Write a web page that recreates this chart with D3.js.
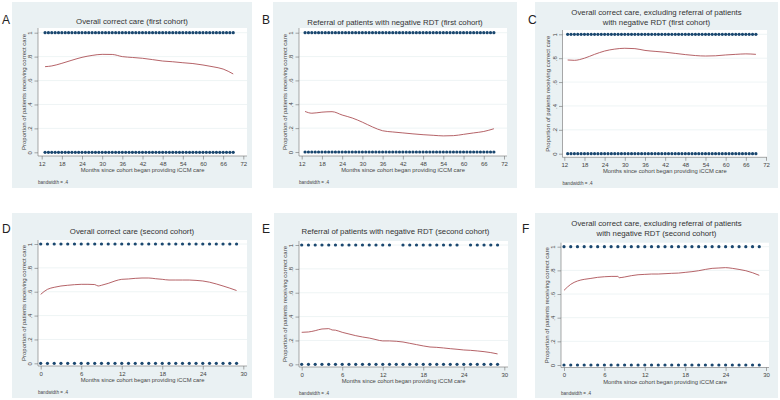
<!DOCTYPE html>
<html><head><meta charset="utf-8">
<script src="https://cdn.jsdelivr.net/npm/d3@7"></script>
<style>body{margin:0;background:#fff}svg{display:block}</style>
</head><body><svg id="c" width="780" height="400"></svg>
<script>
// ---------- DATA ----------
const monthsFirst = [13,14,15,16,17,18,19,20,21,22,23,24,25,26,27,28,29,30,31,32,33,34,35,36,37,38,39,40,41,42,43,44,45,46,47,48,49,50,51,52,53,54,55,56,57,58,59,60,61,62,63,64,65,66,67,68,69];
const monthsSecond = [0,1,2,3,4,5,6,7,8,9,10,11,12,13,14,15,16,17,18,19,20,21,22,23,24,25,26,27,28,29];
const monthsSecondReferralTop = [0,1,2,3,4,5,6,7,8,9,10,11,12,13,15,16,17,18,19,20,21,22,23,25,26,27,28,29];

const curveFirstX = [13,15,18,21,24,27,30,33,36,39,42,45,48,51,54,57,60,63,66,69];
const curveA = [0.716,0.722,0.744,0.77,0.794,0.81,0.819,0.818,0.80,0.793,0.786,0.775,0.763,0.757,0.749,0.742,0.73,0.715,0.696,0.655];
const curveB = [0.34,0.325,0.334,0.338,0.31,0.285,0.25,0.21,0.178,0.168,0.16,0.152,0.145,0.14,0.135,0.137,0.148,0.16,0.172,0.195];
const curveC = [0.785,0.782,0.80,0.832,0.86,0.876,0.883,0.88,0.865,0.857,0.85,0.84,0.83,0.822,0.818,0.82,0.827,0.832,0.836,0.832];

const curveDX = [0,1,2,3,4,5,6,7,8,8.5,9,10,11,12,13,14,15,16,17,18,19,20,21,22,23,24,25,26,27,28,29];
const curveD = [0.578,0.62,0.637,0.648,0.654,0.659,0.662,0.662,0.66,0.648,0.654,0.67,0.69,0.704,0.707,0.712,0.715,0.715,0.709,0.704,0.698,0.698,0.698,0.698,0.695,0.69,0.68,0.665,0.648,0.63,0.61];
const curveEX = [0,1,2,3,4,4.5,5,6,7,8,9,10,11,12,13,14,15,16,17,18,19,20,21,22,23,24,25,26,27,28,29];
const curveE = [0.268,0.271,0.282,0.296,0.299,0.288,0.286,0.268,0.254,0.24,0.229,0.22,0.207,0.196,0.196,0.193,0.187,0.176,0.165,0.154,0.145,0.142,0.137,0.131,0.126,0.12,0.117,0.112,0.106,0.098,0.087];
const curveFX = [0,1,2,3,4,5,6,7,8,8.2,9,10,11,12,13,14,15,16,17,18,19,20,21,22,23,24,25,26,27,28,29];
const curveF = [0.631,0.682,0.71,0.724,0.732,0.741,0.746,0.749,0.749,0.738,0.744,0.755,0.763,0.766,0.769,0.769,0.772,0.775,0.777,0.783,0.789,0.797,0.808,0.817,0.82,0.823,0.817,0.808,0.797,0.78,0.758];

const xTicksFirst = [12,18,24,30,36,42,48,54,60,66,72];
const xTicksSecond = [0,6,12,18,24,30];
const yTicks = [0,0.2,0.4,0.6,0.8,1];
const yTickLabels = ["0",".2",".4",".6",".8","1"];

const panelLetters = ["A","B","C","D","E","F"];
const panelTitles = [
  ["Overall correct care (first cohort)"],
  ["Referral of patients with negative RDT (first cohort)"],
  ["Overall correct care, excluding referral of patients","with negative RDT (first cohort)"],
  ["Overall correct care (second cohort)"],
  ["Referral of patients with negative RDT (second cohort)"],
  ["Overall correct care, excluding referral of patients","with negative RDT (second cohort)"]
];
const xAxisTitle = "Months since cohort began providing iCCM care";
const yAxisTitle = "Proportion of patients receiving correct care";
const noteText = "bandwidth = .4";

// ---------- LAYOUT ----------
const panels = [
  {bg:[12,2,252,188], plot:[38,28,247,156], xd:[12,72], xr:[41.7,243.3], yr:[152.3,32.7], titleY:[23.5], letter:[2,24],
   top:monthsFirst, bot:monthsFirst, cx:curveFirstX, cy:curveA, xt:xTicksFirst},
  {bg:[273,2,517,188], plot:[299,28,507,156], xd:[12,72], xr:[301.7,504], yr:[152,32.7], titleY:[25], letter:[262,24],
   top:monthsFirst, bot:monthsFirst, cx:curveFirstX, cy:curveB, xt:xTicksFirst},
  {bg:[535,2,778,188], plot:[562.5,30,767,157.3], xd:[12,72], xr:[564.3,766], yr:[153.7,34.3], titleY:[15,24.5], letter:[528,24],
   top:monthsFirst, bot:monthsFirst, cx:curveFirstX, cy:curveC, xt:xTicksFirst},
  {bg:[12,213,252,398], plot:[38,240,247,366], xd:[0,30], xr:[40.7,243.3], yr:[363.3,244], titleY:[233.5], letter:[2,233],
   top:monthsSecond, bot:monthsSecond, cx:curveDX, cy:curveD, xt:xTicksSecond},
  {bg:[274,213,517,398], plot:[299,241,508,367], xd:[0,30], xr:[301.7,504.3], yr:[364.3,245], titleY:[233.5], letter:[262,233],
   top:monthsSecondReferralTop, bot:monthsSecond, cx:curveEX, cy:curveE, xt:xTicksSecond},
  {bg:[535,213,778,398], plot:[561,242.7,769,367.5], xd:[0,30], xr:[564,766], yr:[365,246.7], titleY:[226,236], letter:[522,233],
   top:monthsSecond, bot:monthsSecond, cx:curveFX, cy:curveF, xt:xTicksSecond}
];

const svg = d3.select("#c");
const FONT = "'Liberation Sans', Arial, sans-serif";
const BG = "#eaf1f3", DOT = "#1a476f", LINE = "#a8474d", AX = "#707070", TXT = "#444";

panels.forEach((p, i) => {
  const g = svg.append("g");
  g.append("rect").attr("x",p.bg[0]).attr("y",p.bg[1]).attr("width",p.bg[2]-p.bg[0]).attr("height",p.bg[3]-p.bg[1]).attr("fill",BG);
  const [L,T,R,B] = p.plot;
  g.append("rect").attr("x",L).attr("y",T).attr("width",R-L).attr("height",B-T).attr("fill","#fff");
  const x = d3.scaleLinear().domain(p.xd).range(p.xr);
  const y = d3.scaleLinear().domain([0,1]).range(p.yr);

  // gridlines
  g.selectAll(".grid").data(yTicks.slice(1)).join("line")
    .attr("x1",L).attr("x2",R).attr("y1",d=>y(d)).attr("y2",d=>y(d))
    .attr("stroke",BG).attr("stroke-width",0.8);

  // axes
  const xa = g.append("g").attr("transform",`translate(0,${B})`)
    .call(d3.axisBottom(x).tickValues(p.xt).tickSize(3.5).tickPadding(1.75).tickSizeOuter(0));
  xa.select(".domain").attr("d",`M${L},0H${R}`);
  const ya = g.append("g").attr("transform",`translate(${L},0)`)
    .call(d3.axisLeft(y).tickValues(yTicks).tickSize(3.5).tickSizeOuter(0).tickFormat((d,k)=>yTickLabels[k]));
  ya.select(".domain").attr("d",`M0,${T}V${B}`);
  [xa,ya].forEach(a=>{a.selectAll("path,line").attr("stroke",AX).attr("stroke-width",0.6);
    a.selectAll("text").attr("fill",TXT).attr("font-family",FONT).attr("font-size",6);});
  ya.selectAll(".tick text").attr("text-anchor","middle").attr("x",0).attr("dy",0)
    .attr("transform","translate(-6,0) rotate(-90)").attr("y",0);

  // dots
  g.selectAll(".dt").data(p.top).join("circle").attr("cx",d=>x(d)).attr("cy",y(1)).attr("r",1.6).attr("fill",DOT);
  g.selectAll(".db").data(p.bot).join("circle").attr("cx",d=>x(d)).attr("cy",y(0)).attr("r",1.6).attr("fill",DOT);

  // lowess line
  const pts = p.cx.map((v,k)=>[v,p.cy[k]]);
  g.append("path").datum(pts).attr("fill","none").attr("stroke",LINE).attr("stroke-width",0.85)
    .attr("d",d3.line().x(d=>x(d[0])).y(d=>y(d[1])).curve(d3.curveMonotoneX));

  // titles
  const cxBg = (p.bg[0]+p.bg[2])/2;
  panelTitles[i].forEach((t,k)=>{
    g.append("text").attr("x",cxBg).attr("y",p.titleY[k]).attr("text-anchor","middle")
      .attr("font-family",FONT).attr("font-size",7.8).attr("fill","#333").text(t);
  });
  g.append("text").attr("x",(L+R)/2).attr("y",B+16).attr("text-anchor","middle")
    .attr("font-family",FONT).attr("font-size",5.8).attr("fill",TXT).text(xAxisTitle);
  g.append("text").attr("transform",`translate(${L-12.5},${(T+B)/2}) rotate(-90)`).attr("text-anchor","middle")
    .attr("font-family",FONT).attr("font-size",6).attr("fill",TXT).text(yAxisTitle);
  g.append("text").attr("x",L).attr("y",B+27.5).attr("font-family",FONT).attr("font-size",4.6).attr("fill",TXT).text(noteText);
  g.append("text").attr("x",p.letter[0]).attr("y",p.letter[1]).attr("font-family",FONT).attr("font-size",12).attr("fill","#222").text(panelLetters[i]);
});
</script></body></html>
